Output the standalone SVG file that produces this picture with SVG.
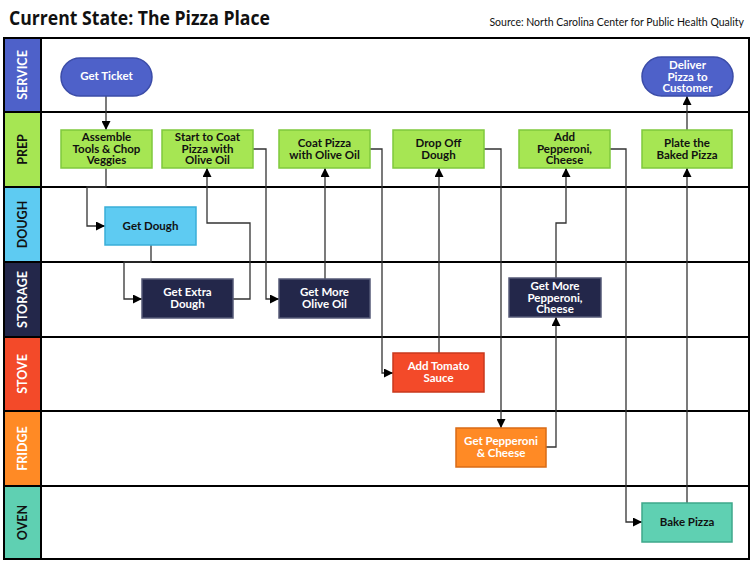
<svg xmlns="http://www.w3.org/2000/svg" width="750" height="561" viewBox="0 0 750 561">
<defs>
<marker id="arr" viewBox="0 0 10 10" refX="10" refY="5" markerWidth="9" markerHeight="9" markerUnits="userSpaceOnUse" orient="auto">
<path d="M0,0 L10,5 L0,10 z" fill="#000"/>
</marker>
</defs>
<style>
.lane{stroke:#000;stroke-width:2}
.lbl{font-family:Lato,"Open Sans",sans-serif;font-weight:700;font-size:12.5px;text-anchor:middle}
.nt{font-family:Lato,"Open Sans",sans-serif;font-weight:700;font-size:11.5px;text-anchor:middle}
.w{fill:#fff}
.k{fill:#111}
.conn path{fill:none;stroke:#333;stroke-width:1.3}
.green{fill:#a6e653;stroke:#7fc93c;stroke-width:1.5}
.blue{fill:#4e61c9;stroke:#3b4ca8;stroke-width:1.5}
.sky{fill:#5ecbf2;stroke:#3aaed8;stroke-width:1.5}
.navy{fill:#23274a;stroke:#555a77;stroke-width:1.5}
.red{fill:#f34a29;stroke:#c9381c;stroke-width:1.5}
.orange{fill:#ff8a25;stroke:#d96b16;stroke-width:1.5}
.teal{fill:#5fd0b2;stroke:#3ea88b;stroke-width:1.5}
</style>
<rect width="750" height="561" fill="#fff"/>
<text x="9" y="25" font-family="Open Sans, sans-serif" font-weight="700" font-size="19" fill="#111" textLength="261" lengthAdjust="spacingAndGlyphs">Current State: The Pizza Place</text>
<text x="744" y="26" font-family="Lato, sans-serif" font-size="10.5" fill="#111" text-anchor="end">Source: North Carolina Center for Public Health Quality</text>

<g id="lanes">
<rect x="4" y="38" width="37" height="74" fill="#4e61c9"/>
<rect x="4" y="112" width="37" height="75" fill="#a6e653"/>
<rect x="4" y="187" width="37" height="75" fill="#5ecbf2"/>
<rect x="4" y="262" width="37" height="75" fill="#23274a"/>
<rect x="4" y="337" width="37" height="74" fill="#f34a29"/>
<rect x="4" y="411" width="37" height="75" fill="#ff8a25"/>
<rect x="4" y="486" width="37" height="73" fill="#5fd0b2"/>
<text class="lbl w" transform="translate(27,75) rotate(-90)">SERVICE</text>
<text class="lbl k" transform="translate(27,149.5) rotate(-90)">PREP</text>
<text class="lbl k" transform="translate(27,224.5) rotate(-90)">DOUGH</text>
<text class="lbl w" transform="translate(27,299.5) rotate(-90)">STORAGE</text>
<text class="lbl w" transform="translate(27,374) rotate(-90)">STOVE</text>
<text class="lbl w" transform="translate(27,448.5) rotate(-90)">FRIDGE</text>
<text class="lbl k" transform="translate(27,522.5) rotate(-90)">OVEN</text>
<g class="lane">
<line x1="4" y1="112" x2="749" y2="112"/>
<line x1="4" y1="187" x2="749" y2="187"/>
<line x1="4" y1="262" x2="749" y2="262"/>
<line x1="4" y1="337" x2="749" y2="337"/>
<line x1="4" y1="411" x2="749" y2="411"/>
<line x1="4" y1="486" x2="749" y2="486"/>
<line x1="41" y1="38" x2="41" y2="559"/>
<rect x="4" y="38" width="745" height="521" fill="none"/>
</g>
</g>

<g class="conn">
<path d="M106,96 V130" marker-end="url(#arr)"/>
<path d="M106,168 V187 H87 V226 H105" marker-end="url(#arr)"/>
<path d="M151,245 V262 H124 V299 H142" marker-end="url(#arr)"/>
<path d="M233,299 H250 V223 H207 V168" marker-end="url(#arr)"/>
<path d="M253,149 H266 V299 H279" marker-end="url(#arr)"/>
<path d="M325,279 V168" marker-end="url(#arr)"/>
<path d="M370,149 H382 V373 H393" marker-end="url(#arr)"/>
<path d="M439,353 V168" marker-end="url(#arr)"/>
<path d="M484,149 H501 V428" marker-end="url(#arr)"/>
<path d="M546,447 H556 V317" marker-end="url(#arr)"/>
<path d="M556,278 V223 H566 V168" marker-end="url(#arr)"/>
<path d="M610,149 H626 V522 H642" marker-end="url(#arr)"/>
<path d="M687,503 V168" marker-end="url(#arr)"/>
<path d="M687,130 V96" marker-end="url(#arr)"/>
</g>

<g id="get-ticket"><rect class="blue" x="61" y="58" width="91" height="38" rx="19"/><text class="nt w" x="106.5" y="80">Get Ticket</text></g>
<g id="deliver"><rect class="blue" x="642" y="57" width="91" height="39" rx="19.5"/><text class="nt w" x="687.5" y="69">Deliver</text><text class="nt w" x="687.5" y="80.5">Pizza to</text><text class="nt w" x="687.5" y="92">Customer</text></g>

<g id="assemble"><rect class="green" x="61" y="130" width="91" height="38"/><text class="nt k" x="106.5" y="141">Assemble</text><text class="nt k" x="106.5" y="152.5">Tools &amp; Chop</text><text class="nt k" x="106.5" y="164">Veggies</text></g>
<g id="start-coat"><rect class="green" x="162" y="130" width="91" height="38"/><text class="nt k" x="207.5" y="141">Start to Coat</text><text class="nt k" x="207.5" y="152.5">Pizza with</text><text class="nt k" x="207.5" y="164">Olive Oil</text></g>
<g id="coat-pizza"><rect class="green" x="279" y="130" width="91" height="38"/><text class="nt k" x="324.5" y="147">Coat Pizza</text><text class="nt k" x="324.5" y="158.5">with Olive Oil</text></g>
<g id="drop-off"><rect class="green" x="393" y="130" width="91" height="38"/><text class="nt k" x="438.5" y="147">Drop Off</text><text class="nt k" x="438.5" y="158.5">Dough</text></g>
<g id="add-pepperoni"><rect class="green" x="519" y="130" width="91" height="38"/><text class="nt k" x="564.5" y="141">Add</text><text class="nt k" x="564.5" y="152.5">Pepperoni,</text><text class="nt k" x="564.5" y="164">Cheese</text></g>
<g id="plate"><rect class="green" x="642" y="130" width="90" height="38"/><text class="nt k" x="687" y="147">Plate the</text><text class="nt k" x="687" y="158.5">Baked Pizza</text></g>

<g id="get-dough"><rect class="sky" x="105" y="207" width="91" height="38"/><text class="nt k" x="150.5" y="230">Get Dough</text></g>

<g id="extra-dough"><rect class="navy" x="142" y="279" width="91" height="39"/><text class="nt w" x="187.5" y="296">Get Extra</text><text class="nt w" x="187.5" y="307.5">Dough</text></g>
<g id="more-oil"><rect class="navy" x="279" y="279" width="91" height="39"/><text class="nt w" x="324.5" y="296">Get More</text><text class="nt w" x="324.5" y="307.5">Olive Oil</text></g>
<g id="more-pepperoni"><rect class="navy" x="509" y="278" width="92" height="39"/><text class="nt w" x="555" y="290">Get More</text><text class="nt w" x="555" y="301.5">Pepperoni,</text><text class="nt w" x="555" y="313">Cheese</text></g>

<g id="tomato"><rect class="red" x="393" y="353" width="91" height="39"/><text class="nt w" x="438.5" y="370">Add Tomato</text><text class="nt w" x="438.5" y="381.5">Sauce</text></g>
<g id="get-pepperoni"><rect class="orange" x="456" y="428" width="90" height="39"/><text class="nt w" x="501" y="445">Get Pepperoni</text><text class="nt w" x="501" y="456.5">&amp; Cheese</text></g>
<g id="bake"><rect class="teal" x="642" y="503" width="90" height="39"/><text class="nt k" x="687" y="526">Bake Pizza</text></g>
</svg>
